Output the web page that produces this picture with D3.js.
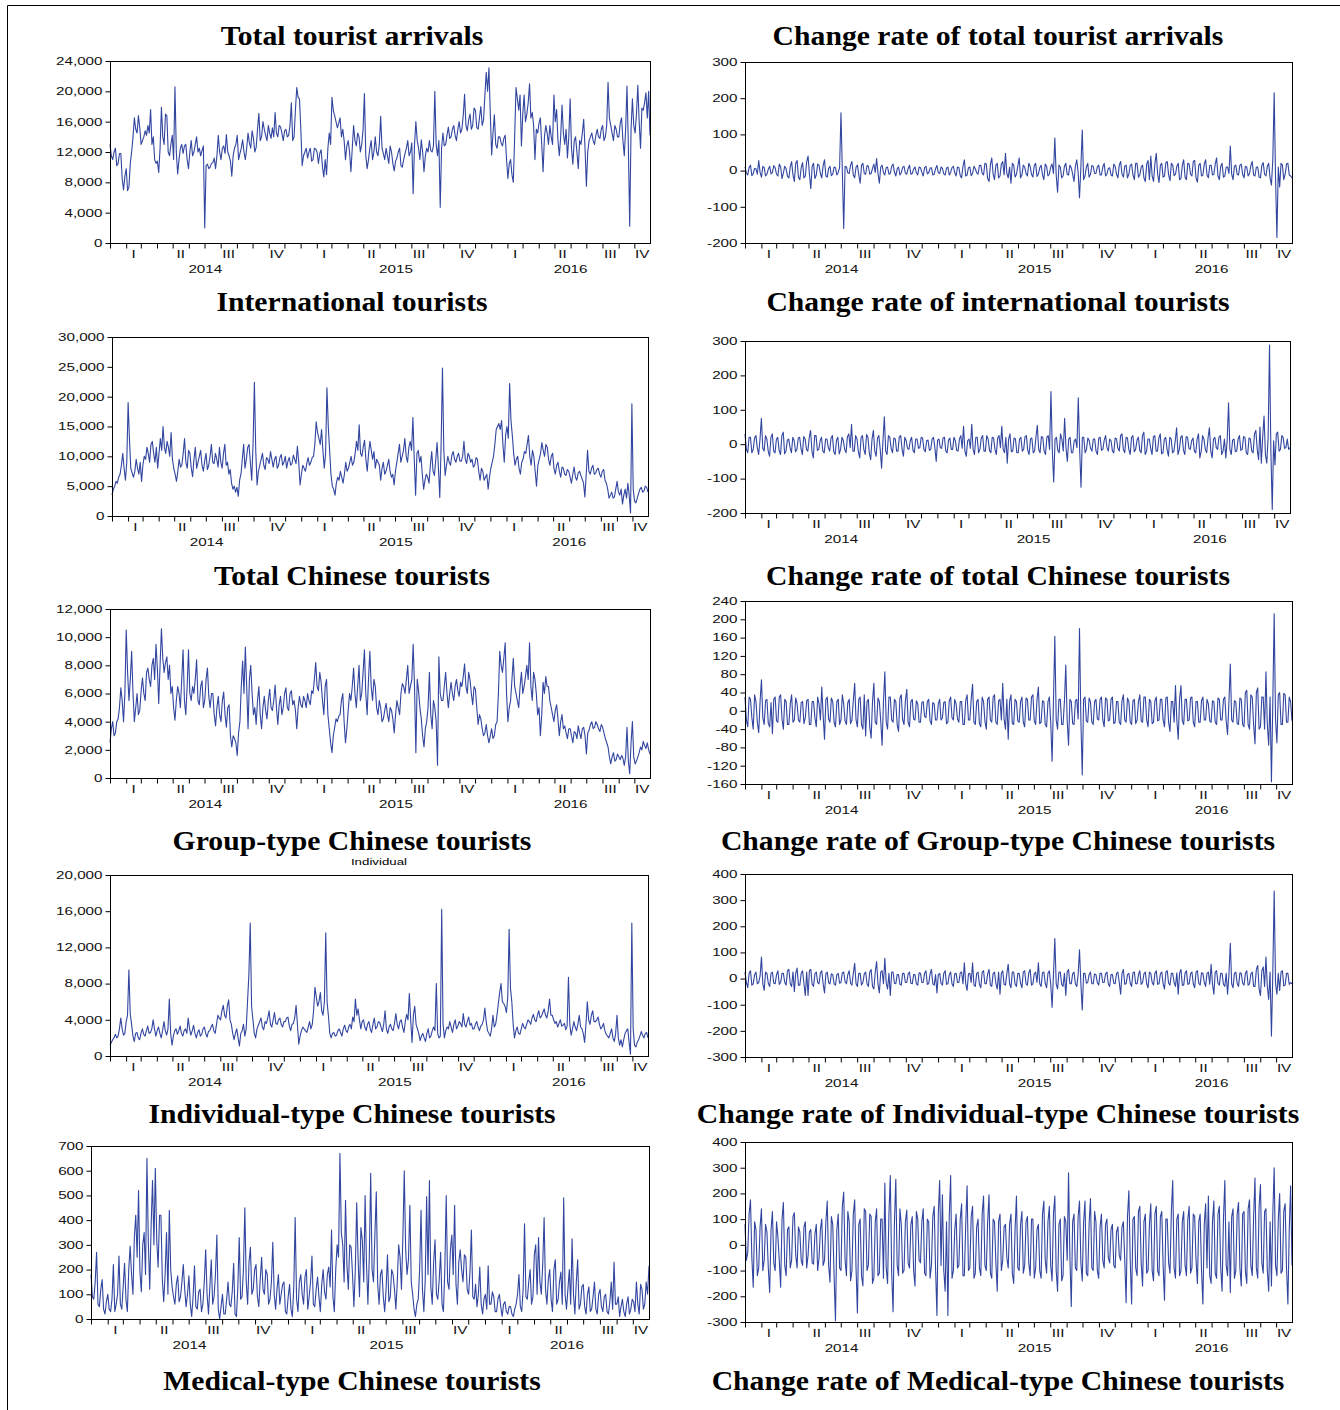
<!DOCTYPE html>
<html>
<head>
<meta charset="utf-8">
<script src="https://cdn.jsdelivr.net/npm/d3@7"></script>
<style>
  body { margin: 0; background: #fff; }
  svg { display: block; }
</style>
</head>
<body>
<div id="chart"></div>
<script>
// daily series 2014-01-01 .. 2016-10-31 (about one value every 2-3 days)
var startDate = new Date(2014, 0, 1),
    endDate = new Date(2016, 9, 31);
var quarterLabels = ["I", "II", "III", "IV"];

var totalArrivals = [
  13000,11500, 11000,12000, 12500,10200, 10500,11800, 11800,8500, 7000,8800, 9800,6900, 7400,10500, 12000,14000, 16500,15000,
  14500,16800, 15200,13000, 13500,14000, 14800,14200, 15500,14500, 17600,13000, 14000,11000, 10500,10800, 9300,12500, 17900,14000,
  13000,17000, 16800,12000, 11500,13000, 14200,11000, 20600,12000, 9100,11000, 12500,13000, 11800,12800, 13000,11000, 9800,12000,
  13500,11500, 12000,13000, 14000,12000, 12500,11500, 12200,12800, 2000,10200, 10400,9800, 10000,10500, 10600,11200, 9800,11500,
  14200,12000, 11000,12500, 12800,11800, 14300,12000, 11500,10800, 8800,11500, 12500,13000, 14200,11000, 11800,12500, 13600,12000,
  11000,12500, 14500,13200, 12500,14800, 13800,12000, 12600,15000, 17100,13500, 14000,16000, 15000,14200, 13500,15500, 14500,13800,
  15200,14000, 17200,14500, 14000,15500, 15300,14500, 13500,14800, 15000,14000, 14200,15500, 18500,13500, 14000,17500, 20500,19200,
  19000,15000, 10200,11500, 12000,12500, 11200,12000, 12500,10800, 11000,12500, 12400,12000, 10500,11800, 12300,10000, 8700,11000,
  9000,12500, 14500,13000, 19200,17500, 16800,16000, 15200,15800, 16500,14000, 15000,13500, 11000,12800, 13500,12000, 9400,12500,
  15500,13500, 12800,14500, 14000,12000, 13000,15000, 19700,11500, 9800,11000, 12500,13500, 11000,12000, 14000,12000, 11500,13000,
  16700,12500, 11800,11000, 12500,11500, 10500,12800, 12000,10500, 9500,10800, 11200,12000, 12500,10200, 10000,11000, 11800,12500,
  13500,11500, 12000,13200, 6500,13000, 16000,13500, 12500,11000, 13600,12000, 9400,11500, 12500,12000, 13500,12200, 12000,12800,
  20000,13000, 11500,13500, 4700,12500, 14500,12800, 13000,14200, 15300,13800, 14000,15000, 15500,14200, 13500,15000, 16000,14500,
  15000,16800, 19600,15500, 14800,16200, 17000,15000, 15500,17800, 17500,15200, 15000,16500, 18000,15500, 16200,19500, 22500,20000,
  23100,17000, 11600,14500, 16900,13000, 12500,14000, 14000,13200, 12800,13800, 14200,11000, 8500,10500, 11000,9000, 8000,14000,
  20500,19000, 17500,19500, 12800,17000, 19500,16000, 17000,18500, 21000,16500, 17200,15500, 11000,15000, 14500,15800, 16500,13000,
  9400,14000, 15500,14500, 13000,15500, 14000,13000, 19500,16000, 17600,13500, 11500,14000, 18200,14500, 13000,15000, 11200,14000,
  19000,12500, 10400,13500, 14000,12000, 9800,13500, 13000,14500, 16300,12500, 7500,12000, 13500,14000, 14500,13500, 13000,14200,
  15000,14000, 13800,15000, 15500,13500, 14000,15500, 21200,16500, 15500,14500, 13500,15500, 15000,14000, 14000,15800, 16500,13500,
  11500,15000, 20700,13000, 2200,15000, 19000,15500, 14500,17000, 20800,16000, 12500,17800, 17500,18500, 19800,16500, 20000,14200
];
var totalArrivalsChange = [
  10,-6, -12,9, 15,-14, -8,6, 5,-10, 28,-5, -18,12, 8,-15, -10,4, 12,-9,
  -5,14, 8,-10, -15,18, 10,-22, -6,12, 5,-16, -20,10, 25,-12, -30,20, 28,-18,
  -25,8, 22,-20, -15,25, 40,-10, -50,12, 20,-22, -12,18, 15,-8, -20,14, 30,-15,
  -18,6, 12,-14, -10,10, 8,-12, -5,8, 160,-2, -160,12, 10,-6, -8,15, 25,-12,
  -20,10, 15,-12, -35,15, 20,-8, -10,14, 12,-10, -8,6, 18,-5, 33,-8, -35,10,
  15,-6, -12,8, 10,-10, -8,12, 18,-4, -15,5, 10,-12, -6,9, 12,-7, -10,6,
  15,-10, -8,4, 10,-6, -12,10, 8,-5, -15,8, 12,-9, -6,7, 8,-12, -10,5,
  14,-6, -8,10, 6,-9, -12,7, 10,-12, -5,8, 12,-6, -15,10, 8,-14, -20,12,
  30,-15, -12,8, 10,-14, -8,12, 5,-6, -10,14, 15,-8, -12,20, 18,-22, -30,16,
  35,-10, -25,15, 20,-20, -15,18, 25,-12, 48,-8, -20,10, -35,20, 15,-18, -10,12,
  35,-20, -12,15, 10,-8, -15,20, 12,-10, -18,14, 20,-16, -10,8, 15,-12, -25,18,
  12,-15, -10,10, 18,-8, 90,-12, -60,15, 10,-20, -15,12, 20,-10, -12,15, 8,-10,
  -30,12, 30,-5, -75,10, 112,-25, -15,10, 20,-18, -10,14, 12,-8, -8,10, 15,-12,
  -12,10, 20,-15, -10,6, 8,-12, -15,18, 12,-10, -20,15, 25,-10, -18,12, 15,-20,
  -10,15, 18,-12, -25,20, 20,-18, -12,10, 15,-20, -30,18, 28,-25, 40,-15, -30,20,
  48,-10, -33,15, 20,-18, -15,22, 25,-12, -28,20, 15,-14, -10,12, 20,-25, -22,15,
  30,-18, -25,20, 18,-10, -15,25, 28,-20, -32,15, 20,-15, -12,18, 30,-12, -20,14,
  15,-12, -10,18, 35,-15, -25,12, 20,-18, -15,10, 10,-8, 68,-10, -25,12, 15,-10,
  -12,15, 18,-10, -20,12, 10,-15, -8,14, 25,-12, -15,10, 10,-18, -20,15, 22,-10,
  -15,12, 20,-20, -40,30, 215,-20, -185,10, -45,20, 15,-25, -10,18, 20,-12, -15,-20
];
var international = [
  3500,4500, 5000,5800, 5500,6500, 7000,8500, 10500,8000, 6000,9000, 19000,12800, 8000,7200, 6500,7500, 9500,8000,
  7000,9000, 5800,8500, 10000,9500, 11500,10500, 9000,12000, 12500,10500, 9000,11500, 8000,10500, 13000,11000, 15000,11500,
  10500,12500, 11500,10000, 14000,9500, 8000,7000, 5800,7500, 9500,8200, 8500,10500, 13000,9000, 8000,11000, 10500,8000,
  6600,9500, 11500,8000, 9000,10000, 11000,8500, 7500,9200, 10500,7800, 8500,10000, 12000,9000, 8800,10500, 9500,8200,
  11500,9000, 8000,10500, 12000,8500, 9000,7000, 7800,5500, 4500,5000, 4000,4800, 3300,6000, 7000,9500, 12000,8000,
  9500,11500, 12000,9000, 6000,12000, 22400,11000, 5200,7500, 8500,9500, 10500,8500, 7800,9800, 9500,8800, 10800,9500,
  8200,9500, 10000,8000, 8500,9800, 10300,8500, 9000,10000, 8000,9200, 9800,8500, 8800,10200, 9500,8800, 11700,9000,
  5200,7000, 8500,8000, 7500,8800, 9800,8500, 9000,9800, 10000,12000, 15800,14000, 13000,12000, 14500,11000, 8000,10500,
  21500,15000, 11000,7000, 5000,4500, 3500,5500, 6500,6000, 7500,6500, 5500,7000, 9000,7500, 8000,9000, 10000,8500,
  9000,10500, 12500,11000, 15300,10500, 10000,11500, 12700,9500, 7500,10500, 12500,11000, 9500,10800, 8000,9500, 9000,8500,
  6000,8000, 9000,7000, 7500,8500, 9500,7500, 6500,7000, 5200,7500, 9000,10500, 12000,9000, 10000,11000, 13000,10000,
  9000,11500, 12500,11000, 16500,9500, 3500,10500, 11000,9000, 10000,7000, 4500,6000, 7000,6500, 5500,8500, 10800,7500,
  6800,9500, 12300,8000, 3100,12000, 24800,11000, 6800,8500, 10000,9000, 8500,10200, 10800,9500, 9000,10000, 10500,9200,
  9200,10000, 12500,9500, 8800,10500, 10000,9000, 9500,8200, 8500,9800, 9500,7500, 6000,8000, 7500,6000, 6500,7000,
  4500,6500, 8000,9000, 10000,12000, 14500,15000, 15500,14500, 16000,12000, 9000,13500, 15000,13000, 22200,16000, 13500,10500,
  8500,9500, 10000,8000, 7000,9000, 9500,10800, 10500,12000, 13500,10000, 8500,11000, 10000,7500, 5000,8500, 9500,10500,
  12300,11000, 10000,12000, 11500,9500, 8500,10000, 10500,8000, 7000,8500, 9000,7500, 6500,8200, 8000,7000, 6800,7800,
  7500,6500, 5500,7000, 8200,6500, 6000,7200, 7500,6800, 6200,5500, 3200,7000, 11000,7500, 7000,8000, 8500,7000,
  7200,7800, 8000,7000, 6500,7500, 7800,6000, 5500,4500, 3000,3500, 4000,3000, 3200,4500, 5800,4000, 3500,4500,
  2000,3500, 4500,3000, 5500,3500, 500,18800, 4500,2500, 2200,3000, 3800,4500, 4800,4000, 4200,5000, 4800,4000
];
var internationalChange = [
  30,-15, -25,20, 20,-25, -15,18, 25,-10, -30,15, 75,-12, -20,25, 15,-20, -35,20,
  30,-20, -25,15, 20,-18, -30,25, 35,-28, -20,12, 15,-10, -25,20, 10,-22, -15,18,
  20,-12, -30,22, 15,-15, -20,18, 40,-20, -40,25, 25,-18, -15,10, 20,-20, -25,15,
  15,-10, -20,18, 25,-22, -30,12, 20,-28, -15,20, 10,-15, -25,22, 30,-10, 58,-20,
  -20,25, 15,-22, -40,20, 25,-15, -30,28, 20,-25, -45,15, 40,-20, -35,18, 25,-15,
  -70,10, 80,-20, -30,25, 20,-12, -25,18, 15,-20, -20,22, 25,-15, -35,20, 10,-12,
  -15,10, 20,-18, -25,15, 15,-12, -10,20, 18,-15, -22,10, 12,-18, -15,15, 20,-10,
  -50,12, 15,-10, -12,18, 20,-20, -25,12, 18,-15, -15,20, 10,-18, -20,15, 25,-12,
  52,-20, -35,10, 15,-12, 58,-15, -30,20, 20,-25, -15,18, 25,-20, -20,25, 15,-18,
  -25,20, 18,-15, -30,18, 25,-10, 52,-15, -25,20, -55,15, 30,-22, -20,18, 15,-25,
  -25,15, 20,-20, -15,22, 25,-18, -30,15, 18,-25, -20,20, 55,-15, -25,22, 20,-20,
  -30,20, 25,-15, 153,-20, -110,15, 20,-18, -25,30, 15,-20, 75,-10, -50,15, 20,-25,
  -25,10, 15,-10, 135,-15, -125,20, 20,-25, -15,18, 10,-12, -20,15, 15,-20, -30,18,
  20,-18, -15,12, 25,-10, -20,15, 10,-20, -25,18, 15,-12, -20,25, 30,-15, -25,20,
  18,-15, -30,20, 25,-22, -15,12, 20,-18, -25,25, 35,-30, -20,15, 15,-12, -30,22,
  25,-20, -20,18, 30,-28, -25,15, 20,-15, -35,20, 15,-25, -20,10, 48,-30, -15,20,
  25,-18, -30,22, 20,-12, -15,10, 18,-20, -25,15, 30,-40, -20,25, 15,-15, -25,18,
  48,-20, -40,15, 20,-10, -15,20, 25,-30, -20,15, -40,10, 120,-15, -30,12, 15,-22,
  -20,15, 25,-18, -15,22, 20,-25, -30,18, 15,-20, -25,30, 40,-15, -45,50, -55,20,
  82,-30, -55,20, 288,-20, -190,10, -60,30, 35,-20, -15,25, 20,-12, -10,15, -15,-10
];
var chineseTotal = [
  2500,3500, 4000,3000, 3200,4000, 4200,5000, 6400,5500, 4000,6000, 10500,7500, 5500,7000, 9000,6000, 4000,5000,
  6000,4500, 4800,6200, 7100,6000, 5500,7500, 7800,7000, 6500,8000, 8500,7000, 9500,7800, 5300,8000, 10600,8500,
  7500,8200, 8600,7000, 8000,6000, 6500,5000, 4100,5500, 6500,6000, 5000,7000, 9100,5500, 4500,6500, 9100,6000,
  5500,6500, 6000,7000, 8400,5500, 5200,6500, 6900,5000, 5500,7000, 7800,5800, 5000,6000, 6000,4500, 3700,5000,
  5800,4500, 4000,5500, 6100,4500, 3600,5000, 5200,3000, 2200,3000, 2800,2500, 1600,3200, 4000,6500, 8300,6000,
  9300,6500, 3500,7000, 8000,6000, 4500,5000, 3800,5500, 6500,4500, 3500,5000, 5800,4800, 4200,5500, 6300,5000,
  4800,5500, 6600,5000, 3800,5200, 5800,4500, 5000,6000, 6400,5000, 4800,6000, 6200,5200, 5500,4800, 3500,5000,
  5800,5200, 5000,5800, 5500,5000, 6000,5500, 5200,6200, 6000,7000, 8200,6500, 6200,7500, 6800,5500, 4500,6500,
  7000,4500, 3500,2500, 1800,3000, 3600,4200, 4000,4400, 4500,5500, 6000,4000, 2500,3500, 4800,6000, 5500,6500,
  7800,6000, 5000,6500, 8000,5500, 6000,7500, 9100,6000, 4500,7000, 9000,6500, 5500,7000, 6500,5000, 4500,5500,
  5000,4000, 4200,4800, 5300,4500, 4000,5000, 4800,4200, 3200,4500, 5500,5000, 4500,6000, 6700,6500, 6000,7000,
  8000,6000, 6500,7000, 9500,6500, 1800,7000, 6200,5000, 4200,3000, 2200,3500, 4000,5000, 7500,4500, 3500,5500,
  5000,4000, 900,8600, 6000,5500, 5500,6500, 7500,6000, 5000,6000, 6800,6000, 5500,6500, 7000,6200, 5800,6800,
  6500,7200, 8100,6500, 6000,7500, 7000,6000, 5200,6500, 6300,5000, 3800,4500, 4200,3500, 3000,3200, 3800,3000,
  2500,3000, 3500,2800, 3000,3800, 4000,6000, 9000,8000, 7500,8500, 9600,6000, 4000,5000, 5500,7000, 8500,6500,
  6000,5500, 5000,6500, 7500,6000, 6500,7200, 8000,7000, 9600,6500, 5500,7500, 7000,6000, 4500,5000, 3000,4500,
  6800,6000, 7200,6500, 6500,5500, 5000,4500, 4000,4800, 5200,4200, 3000,4000, 4500,3500, 3700,3200, 2800,3500,
  3500,3000, 2500,3300, 3200,2800, 3700,3200, 2800,3500, 3600,3000, 1700,3200, 3400,3800, 4000,3500, 3600,4000,
  3800,3500, 3300,3800, 3600,3200, 2800,2500, 2200,1500, 1000,1500, 1800,1200, 1300,1700, 1500,1300, 1600,1400,
  900,1500, 3600,1200, 300,2500, 4000,1500, 1000,1200, 1500,1800, 2200,2000, 2600,2300, 2100,2500, 2000,1700
];
var chineseTotalChange = [
  30,-20, -35,30, 25,-15, -40,35, 20,-25, -48,20, 68,-15, -30,22, 25,-28, -35,18,
  -50,25, 30,-22, -25,30, 35,-18, -40,25, 20,-30, -30,15, 35,-25, -20,28, 15,-20,
  -25,18, 20,-28, -15,22, 25,-30, -30,20, 20,-15, -35,30, 15,-20, 52,-10, -62,25,
  30,-18, -25,28, 20,-25, -35,20, 25,-30, -20,35, 15,-22, -30,18, 25,-28, -20,22,
  60,-20, -35,25, 30,-30, -40,35, -55,20, 25,-35, -60,20, 60,-25, -30,28, 20,-22,
  -75,20, 85,-25, -40,30, 30,-20, -25,25, 20,-30, -45,28, 35,-20, -30,22, 47,-25,
  -35,20, 25,-18, -20,22, 15,-25, -25,18, 20,-12, -15,20, 25,-22, -30,18, 15,-20,
  -20,15, 25,-20, -15,18, 20,-28, -25,22, 30,-15, -20,25, 15,-18, -25,20, 20,-30,
  -30,22, 35,-20, -20,25, 58,-25, -30,20, 25,-28, -35,30, 20,-22, -40,25, 30,-20,
  -25,30, 35,-25, -30,22, 25,-20, 60,-18, -40,25, -62,20, 35,-28, -30,25, 20,-22,
  -25,20, 30,-25, -35,28, 25,-20, -20,30, 35,-22, -30,25, 52,-28, -25,22, 20,-30,
  -35,20, 30,-25, -110,20, 163,-20, -40,25, 25,-30, -30,20, 100,-20, -75,25, 20,-28,
  -30,22, 25,-18, 180,-20, -140,25, 30,-22, -25,28, 20,-25, -30,20, 25,-18, -20,25,
  30,-20, -35,28, 25,-22, -20,25, 30,-28, -25,20, 20,-25, -30,22, 35,-20, -25,28,
  20,-25, -30,22, 25,-28, -20,20, 35,-22, -25,30, 30,-20, -35,25, 20,-28, -25,22,
  30,-22, -20,25, 25,-20, -35,28, 30,-25, -45,20, 20,-25, 55,-20, -62,25, 55,-22,
  -30,25, 25,-22, -20,28, 30,-25, -35,20, 20,-25, -25,22, 30,-20, -20,25, 15,-22,
  -25,22, 20,-25, -30,28, 25,-20, -20,25, 30,-22, -52,20, 102,-20, -25,22, 20,-28,
  -30,28, 25,-30, -35,40, 45,-30, -40,35, 30,-30, -72,40, 50,-40, -35,30, 30,-40,
  85,-30, -75,30, -155,20, 212,-20, -70,35, 40,-30, -30,38, 35,-25, -25,30, 20,-22
];
var groupType = [
  1200,1500, 1800,2000, 2400,2000, 2200,3000, 4200,3000, 2300,2500, 3800,4500, 9500,4700, 3500,2200, 1600,2500,
  2600,2000, 1800,2500, 3000,2400, 2200,2800, 3300,2500, 2600,3000, 4000,3000, 2200,2800, 3200,2500, 2000,2800,
  3800,2800, 2300,3000, 6300,2500, 1200,2200, 2800,3000, 2400,2800, 3300,2500, 2200,2800, 3000,2500, 4200,3000,
  2300,2800, 3400,2500, 2000,2600, 2900,2200, 2400,3000, 3200,2500, 2100,2700, 2800,3200, 3500,2800, 2500,3500,
  4500,4200, 4000,5000, 5600,4500, 4200,5500, 6200,4000, 3500,2500, 1800,2500, 3000,2000, 1100,2500, 2800,3500,
  2200,3000, 6000,9000, 14700,5500, 4000,2500, 2000,3000, 3400,3800, 4200,3200, 2900,3800, 3600,4200, 5000,3500,
  3200,4000, 4800,3600, 3500,4000, 4200,3500, 3200,3800, 3800,4200, 4300,3300, 2800,3500, 3600,4200, 5600,3500,
  1300,2200, 2800,3200, 3000,2800, 2600,3200, 3800,3000, 3500,5000, 7600,6500, 5500,6000, 7000,5000, 4500,6000,
  13600,6000, 4400,2500, 2000,2500, 2600,2200, 2300,2800, 3000,2600, 2200,3000, 3400,2800, 2600,3200, 3500,3000,
  4300,3800, 6300,4500, 5200,4000, 3000,3800, 4000,3200, 2800,3500, 3800,3000, 2600,3500, 4200,3000, 3200,3800,
  3700,3200, 2700,3500, 5000,3000, 2500,3200, 3500,3000, 2800,3600, 4700,3500, 3000,3800, 4000,3200, 2600,3800,
  4600,4000, 6900,4000, 1500,4500, 5500,3500, 3000,2500, 1700,2200, 2500,2000, 1600,2500, 3000,2000, 2200,2800,
  3200,2800, 8000,2500, 2000,2200, 16200,3500, 2000,2800, 3200,3000, 3800,3200, 2600,3500, 4000,3000, 3300,3800,
  3600,3200, 4700,3500, 3200,3800, 4300,3400, 3600,3000, 3000,3500, 3800,3200, 2800,3300, 3500,4000, 5300,3800,
  2800,2500, 2200,3000, 4500,3200, 3500,4500, 5800,7000, 8000,6000, 5800,5500, 4800,6500, 14000,7500, 6000,3500,
  2000,2800, 3200,2500, 2400,3000, 3600,3200, 3000,3500, 4000,3800, 3500,4200, 4600,4000, 3800,4500, 5000,4200,
  4400,4800, 5200,4500, 4200,5000, 6300,4500, 4500,4000, 3600,3800, 3200,3600, 4000,3300, 3400,3600, 2900,3300,
  8700,3500, 2300,3000, 3800,3200, 2800,3500, 4500,3200, 3000,2500, 1500,3500, 6000,4000, 3500,4500, 5000,3800,
  3800,4000, 4300,3500, 3000,3200, 3600,2800, 2400,2200, 2000,2500, 3000,2000, 1600,2500, 4500,2000, 1200,1800,
  1000,1800, 2500,2800, 3000,1500, 200,14700, 3000,1200, 1000,1500, 1800,2200, 2700,2300, 2000,2500, 2600,2000
];
var groupTypeChange = [
  25,-15, -35,20, 30,-25, -20,15, 25,-20, -15,10, 82,-20, -45,25, 20,-18, -30,20,
  25,-18, -20,15, 30,-22, -15,20, 20,-15, -25,30, 35,-20, -30,25, -50,20, 40,-25,
  -25,20, 30,-20, -65,25, -65,30, 35,-22, -30,18, 25,-15, -20,22, 30,-20, -55,20,
  25,-15, -20,18, 15,-20, -25,15, 20,-18, -15,22, 25,-12, -20,15, 30,-18, -25,20,
  58,-20, -30,20, 20,-25, -15,18, 25,-20, -30,25, 35,-30, -40,25, 65,-20, -55,25,
  30,-20, 78,-15, -40,20, -65,25, 25,-18, -20,15, 15,-22, -25,20, 20,-15, -15,18,
  25,-18, -20,15, 15,-20, -25,22, 20,-15, -15,20, 30,-22, -20,18, 35,-20, -25,15,
  -55,15, 20,-18, -25,20, 30,-22, -20,15, 25,-20, -30,18, 20,-15, -15,22, 25,-20,
  60,-20, -45,18, 20,-15, 60,-25, -30,20, 25,-22, -35,25, 30,-20, -20,18, 35,-25,
  -30,20, 25,-18, -40,25, -60,20, 30,-22, -25,20, 55,-20, -35,25, 25,-22, -30,20,
  20,-18, -35,25, 30,-20, -25,22, 35,-25, -20,18, 25,-15, 60,-20, -30,22, 25,-18,
  -35,20, 30,-20, -110,15, 153,-20, -40,25, 25,-22, -30,20, -65,25, 35,-20, -20,18,
  25,-20, -30,15, 110,-20, -120,20, 20,-18, -15,15, 25,-20, -20,18, 15,-15, -25,20,
  20,-15, -15,18, 25,-20, -30,15, 15,-18, -20,20, 25,-15, -60,20, 35,-22, -20,15,
  20,-18, -30,22, 25,-20, -20,15, 30,-22, -15,18, 25,-20, -35,25, 20,-15, -25,20,
  30,-22, -20,18, 25,-20, -40,25, 30,-18, -25,20, 20,-15, -30,22, -60,20, 35,-25,
  -25,20, 30,-22, -20,18, 25,-20, -35,25, 30,-18, -25,22, 20,-15, -30,20, 25,-22,
  55,-20, -60,25, 30,-18, -25,20, 20,-22, -30,20, -60,15, 135,-20, -35,20, 25,-18,
  -30,22, 20,-18, -25,20, 30,-25, -20,18, 25,-30, -30,35, 50,-40, -65,30, 45,-30,
  82,-30, -80,25, -220,20, 335,-20, -60,20, -45,25, 30,-28, -25,20, 20,-22, -15,-20
];
var medical = [
  180,90, 80,150, 270,60, 50,120, 160,40, 20,70, 100,40, 30,80, 220,30, 60,100,
  255,60, 40,130, 225,80, 30,200, 295,180, 100,330, 420,250, 520,190, 110,300, 350,180,
  650,310, 120,380, 560,300, 610,320, 210,420, 420,160, 70,180, 350,100, 440,200, 130,90,
  60,140, 175,70, 90,150, 220,120, 50,100, 175,60, 10,90, 215,50, 40,110, 120,30,
  60,150, 280,100, 20,130, 240,60, 90,180, 340,40, 0,50, 100,20, 20,80, 150,60,
  50,110, 225,20, 10,130, 330,80, 90,200, 450,150, 60,230, 290,100, 120,200, 220,90,
  50,160, 250,120, 100,200, 180,60, 80,150, 310,100, 40,120, 180,60, 100,140, 150,30,
  20,90, 140,40, 10,130, 410,80, 30,150, 180,100, 60,170, 200,40, 90,150, 255,60,
  50,120, 170,90, 30,140, 200,110, 80,180, 210,130, 360,90, 30,200, 300,250, 670,350,
  300,150, 480,220, 120,300, 290,180, 50,200, 470,240, 90,370, 320,150, 500,220, 60,250,
  590,200, 150,340, 515,140, 60,180, 200,90, 30,120, 260,70, 90,200, 180,120, 40,150,
  300,250, 120,330, 600,280, 180,240, 460,150, 100,40, 10,60, 80,200, 440,120, 30,160,
  495,180, 560,130, 60,230, 320,100, 80,160, 270,60, 30,200, 500,150, 120,280, 340,180,
  460,140, 60,230, 280,200, 150,260, 250,120, 100,190, 360,90, 80,140, 50,100, 210,60,
  20,80, 100,40, 215,60, 60,110, 90,30, 30,80, 100,50, 10,60, 70,30, 20,50,
  50,20, 10,40, 60,100, 180,50, 30,120, 385,90, 80,150, 200,60, 90,260, 300,100,
  330,150, 100,220, 410,120, 60,160, 200,80, 30,200, 240,60, 80,150, 190,60, 490,100,
  40,120, 200,60, 325,100, 20,150, 240,40, 60,130, 140,50, 20,100, 130,30, 40,90,
  150,40, 20,100, 120,50, 30,90, 100,30, 20,70, 150,40, 230,60, 60,90, 10,50,
  80,30, 10,60, 90,20, 40,80, 70,30, 150,60, 20,140, 120,40, 60,150, 100,215
];
var medicalChange = [
  80,-60, -30,120, 175,-50, -165,90, 60,-120, -90,70, 140,-100, -60,80, 50,-90, -185,60,
  130,-70, -100,90, 30,-60, -165,100, 165,-80, -120,60, 70,-90, -60,110, 125,-40, -90,70,
  50,-60, -80,70, 90,-90, -40,50, 60,-70, -75,40, 80,-100, -50,60, 100,-80, -60,90,
  170,-80, -145,110, 80,-120, -295,60, 120,-90, -100,150, 205,-60, -120,130, 90,-140, -100,120,
  175,-90, -265,80, 100,-120, -160,140, 130,-100, -80,120, 110,-150, -130,90, 140,-120, -110,100,
  100,-130, 240,-90, -150,120, 270,-110, -260,90, 255,-80, -120,140, 80,-110, -100,90, 135,-70,
  -90,80, 110,-100, -160,130, 100,-60, -70,90, 140,-110, -120,100, 90,-130, -80,110, 150,-90,
  -275,120, 250,-80, 195,-100, -180,90, -275,110, 270,-130, -100,60, 120,-90, -80,100, 160,-120,
  -120,80, 230,-100, -90,110, 150,-130, -110,70, 100,-90, -120,120, 190,-80, -100,90, 195,-110,
  -130,100, 90,-70, -180,90, 120,-100, -60,70, 80,-50, -90,80, 120,-110, -150,60, 190,-90,
  -100,80, 130,-110, -80,90, 110,-70, -120,100, 100,-130, -90,60, 80,-100, -130,120, 170,-60,
  -110,90, 150,-80, -140,120, 190,-100, -180,80, 100,-140, -120,110, 90,-60, 280,-50, -240,90,
  120,-90, -100,110, 170,-70, -140,90, 170,-110, -120,80, 180,-90, -100,130, 90,-100, -130,70,
  120,-60, -90,80, 100,-50, -70,60, 80,-80, -90,50, 70,-40, -60,70, 90,-60, -225,110,
  210,-60, -230,100, 110,-90, -120,130, 150,-70, -160,90, 120,-110, -100,80, 160,-100, -140,120,
  150,-100, -120,110, 130,-80, -215,100, 100,-70, -110,130, 250,-90, -130,100, 120,-120, -100,90,
  130,-80, -120,100, 150,-110, -90,120, 110,-60, -150,90, 120,-100, -230,80, 160,-90, 190,-120,
  -150,90, 170,-110, -130,120, 150,-90, -180,100, 250,-80, -120,90, -185,110, 140,-130, -100,120,
  165,-90, -160,120, 130,-100, -150,140, 175,-80, -120,110, 260,-90, -130,150, 235,-70, -110,130,
  140,-100, -180,90, -160,120, 300,-80, -120,100, 200,-110, -100,130, 160,-90, -230,60, 230,-80
];

// y tick values
var ticksTotal = [0, 4000, 8000, 12000, 16000, 20000, 24000];
var ticksTotalChange = [-200, -100, 0, 100, 200, 300];
var ticksIntl = [0, 5000, 10000, 15000, 20000, 25000, 30000];
var ticksIntlChange = [-200, -100, 0, 100, 200, 300];
var ticksChinese = [0, 2000, 4000, 6000, 8000, 10000, 12000];
var ticksChineseChange = [-160, -120, -80, -40, 0, 40, 80, 120, 160, 200, 240];
var ticksGroup = [0, 4000, 8000, 12000, 16000, 20000];
var ticksGroupChange = [-300, -200, -100, 0, 100, 200, 300, 400];
var ticksMedical = [0, 100, 200, 300, 400, 500, 600, 700];
var ticksMedicalChange = [-300, -200, -100, 0, 100, 200, 300, 400];

var titleTexts = [
  "Total tourist arrivals", "Change rate of total tourist arrivals",
  "International tourists", "Change rate of international tourists",
  "Total Chinese tourists", "Change rate of total Chinese tourists",
  "Group-type Chinese tourists", "Change rate of Group-type Chinese tourists",
  "Individual-type Chinese tourists", "Change rate of Individual-type Chinese tourists",
  "Medical-type Chinese tourists", "Change rate of Medical-type Chinese tourists"
];
var titleBaselines = [45, 45, 311, 311, 585, 585, 850, 850, 1123, 1123, 1390, 1390];

// layout
var panels = [
  {data: totalArrivals, ticks: ticksTotal, x0: 110, x1: 650, y0: 61, y1: 243},
  {data: totalArrivalsChange, ticks: ticksTotalChange, x0: 745, x1: 1292, y0: 62, y1: 243},
  {data: international, ticks: ticksIntl, x0: 112, x1: 648, y0: 337, y1: 516},
  {data: internationalChange, ticks: ticksIntlChange, x0: 745, x1: 1290, y0: 341, y1: 513},
  {data: chineseTotal, ticks: ticksChinese, x0: 110, x1: 650, y0: 609, y1: 778},
  {data: chineseTotalChange, ticks: ticksChineseChange, x0: 745, x1: 1292, y0: 601, y1: 784},
  {data: groupType, ticks: ticksGroup, x0: 110, x1: 648, y0: 875, y1: 1056},
  {data: groupTypeChange, ticks: ticksGroupChange, x0: 745, x1: 1292, y0: 874, y1: 1057},
  {data: medical, ticks: ticksMedical, x0: 91, x1: 649, y0: 1146, y1: 1319},
  {data: medicalChange, ticks: ticksMedicalChange, x0: 745, x1: 1292, y0: 1142, y1: 1322}
];

var lineColor = "#3246a0";
var tickFont = "'Liberation Sans', Arial, sans-serif";
var stretch = 1.45;

var svg = d3.select("#chart").append("svg")
    .attr("width", 1340)
    .attr("height", 1410);

// page frame (left and top edge only)
svg.append("path")
    .attr("d", "M7.5,1410V5.5H1340")
    .attr("fill", "none")
    .attr("stroke", "#000")
    .attr("stroke-width", 1);

var numFmt = function(d) { return d3.format(",")(d).replace("\u2212", "-"); };

panels.forEach(function(p) {
    var x = d3.scaleTime().domain([startDate, endDate]).range([p.x0, p.x1]);
    var y = d3.scaleLinear().domain(d3.extent(p.ticks)).range([p.y1, p.y0]);
    var idx = d3.scaleLinear().domain([0, p.data.length - 1]).range([startDate, endDate]);

    var g = svg.append("g");

    // series
    g.append("path")
        .datum(p.data)
        .attr("fill", "none")
        .attr("stroke", lineColor)
        .attr("stroke-width", 1.1)
        .attr("stroke-linejoin", "round")
        .attr("d", d3.line()
            .x(function(d, i) { return x(idx(i)); })
            .y(function(d) { return y(d); }));

    // box
    g.append("rect")
        .attr("x", p.x0 + 0.5)
        .attr("y", p.y0 + 0.5)
        .attr("width", p.x1 - p.x0)
        .attr("height", p.y1 - p.y0)
        .attr("fill", "none")
        .attr("stroke", "#000")
        .attr("stroke-width", 1);

    // y axis
    var ya = g.append("g")
        .attr("transform", "translate(" + (p.x0 + 0.5) + ",0)")
        .call(d3.axisLeft(y).tickValues(p.ticks).tickSize(5).tickPadding(3)
            .tickSizeOuter(0).tickFormat(numFmt));
    ya.select(".domain").remove();
    ya.selectAll("line").attr("stroke", "#000");
    ya.selectAll("text")
        .attr("fill", "#111")
        .style("font-family", tickFont)
        .style("font-size", "10.5px")
        .attr("transform", function() {
            var tx = +this.getAttribute("x");
            return "translate(" + tx + ",0) scale(" + stretch + ",1) translate(" + (-tx) + ",0)";
        });

    // x axis: month ticks
    var xa = g.append("g")
        .attr("transform", "translate(0," + (p.y1 + 0.5) + ")")
        .call(d3.axisBottom(x).tickValues(d3.timeMonth.range(startDate, endDate))
            .tickSize(5).tickSizeOuter(0).tickFormat(""));
    xa.select(".domain").remove();
    xa.selectAll("line").attr("stroke", "#000");

    // quarter labels
    d3.timeMonth.every(3).range(startDate, endDate).forEach(function(q) {
        var qEnd = d3.min([d3.timeMonth.offset(q, 3), endDate]);
        var cx = (x(q) + x(qEnd)) / 2;
        g.append("text")
            .attr("transform", "translate(" + cx + "," + (p.y1 + 15) + ") scale(" + stretch + ",1)")
            .attr("text-anchor", "middle")
            .attr("fill", "#111")
            .style("font-family", tickFont)
            .style("font-size", "10.5px")
            .text(quarterLabels[q.getMonth() / 3]);
    });

    // year labels
    d3.timeYear.range(startDate, endDate).forEach(function(yr) {
        var yEnd = d3.min([d3.timeYear.offset(yr, 1), endDate]);
        var cx = (x(yr) + x(yEnd)) / 2;
        g.append("text")
            .attr("transform", "translate(" + cx + "," + (p.y1 + 30) + ") scale(" + stretch + ",1)")
            .attr("text-anchor", "middle")
            .attr("fill", "#111")
            .style("font-family", tickFont)
            .style("font-size", "10.5px")
            .text(d3.timeFormat("%Y")(yr));
    });
});

// titles
titleTexts.forEach(function(t, i) {
    var cx = i % 2 === 0 ? 352 : 998;
    svg.append("text")
        .attr("transform", "translate(" + cx + "," + titleBaselines[i] + ") scale(1.06,1)")
        .attr("text-anchor", "middle")
        .style("font-family", "'Liberation Serif', 'Times New Roman', serif")
        .style("font-weight", "bold")
        .style("font-size", "28px")
        .text(t);
});

// stray label left over in the original figure
svg.append("text")
    .attr("transform", "translate(379,865) scale(1.4,1)")
    .attr("text-anchor", "middle")
    .style("font-family", tickFont)
    .style("font-size", "9.5px")
    .text("Individual");
</script>
</body>
</html>
